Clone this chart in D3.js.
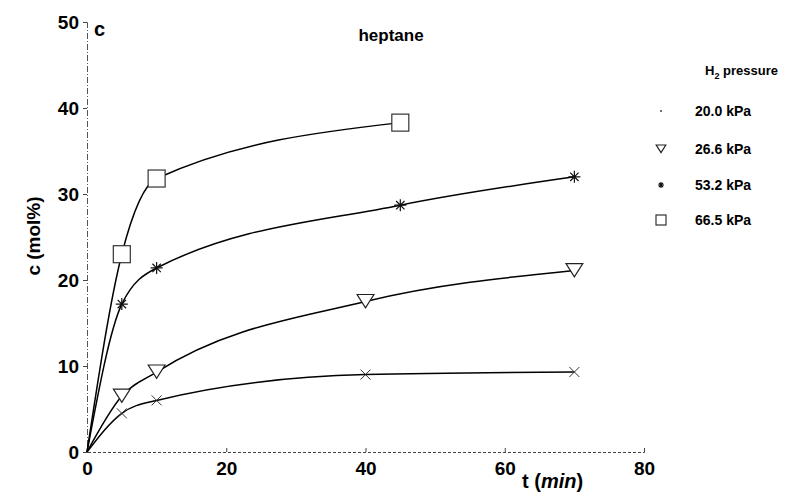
<!DOCTYPE html>
<html><head><meta charset="utf-8">
<script src="https://cdn.jsdelivr.net/npm/d3@7"></script>
<style>body{margin:0;background:#fff}text{font-family:"Liberation Sans",Arial,sans-serif;fill:#000}</style>
</head><body>
<svg id="c" width="798" height="493"></svg>
<script>
const xTicks = [0, 20, 40, 60, 80];
const yTicks = [0, 10, 20, 30, 40, 50];
const legendLabels = ["20.0 kPa", "26.6 kPa", "53.2 kPa", "66.5 kPa"];
const t20 = [0, 5, 10, 40, 70];
const c20 = [0, 4.5, 6.0, 9.0, 9.3];
const t26 = [0, 5, 10, 40, 70];
const c26 = [0, 6.5, 9.3, 17.5, 21.1];
const t53 = [0, 5, 10, 45, 70];
const c53 = [0, 17.2, 21.4, 28.7, 32.0];
const t66 = [0, 5, 10, 45];
const c66 = [0, 23.0, 31.8, 38.3];

const series = [
  {t: t20, c: c20, m: "x"},
  {t: t26, c: c26, m: "tri"},
  {t: t53, c: c53, m: "star"},
  {t: t66, c: c66, m: "sq"}
];

const svg = d3.select("#c");
const x = d3.scaleLinear().domain([0, 80]).range([87, 644]);
const y = d3.scaleLinear().domain([0, 50]).range([452, 22]);

// axes
const xa = svg.append("g").attr("transform", "translate(0,452)")
  .call(d3.axisBottom(x).tickValues(xTicks).tickSize(-4).tickPadding(7));
xa.select(".domain").attr("stroke", "#444").attr("stroke-dasharray", "3,2");
xa.selectAll(".tick line").attr("stroke", "#444");
xa.selectAll("text").attr("font-size", 19).attr("font-weight", "bold").attr("dy", "0.85em");
const ya = svg.append("g").attr("transform", "translate(87,0)")
  .call(d3.axisLeft(y).tickValues(yTicks).tickSize(4).tickPadding(4));
ya.select(".domain").attr("stroke", "#555").attr("stroke-dasharray", "6,2,1,2");
ya.selectAll(".tick line").attr("stroke", "#444");
ya.selectAll("text").attr("font-size", 19).attr("font-weight", "bold");

// lines
const line = d3.line().curve(d3.curveMonotoneX).x(d => x(d[0])).y(d => y(d[1]));
series.forEach(s => {
  const pts = s.t.map((t, i) => [t, s.c[i]]);
  svg.append("path").attr("d", line(pts)).attr("fill", "none").attr("stroke", "#000").attr("stroke-width", 1.5);
});

function marker(g, type, px, py, sz) {
  const k = sz;
  if (type === "x") {
    g.append("path").attr("d", `M${px-k},${py-k}L${px+k},${py+k}M${px-k},${py+k}L${px+k},${py-k}`)
      .attr("stroke", "#333").attr("stroke-width", 1);
  } else if (type === "tri") {
    g.append("path").attr("d", `M${px-k*1.2},${py-k}L${px+k*1.2},${py-k}L${px},${py+k*0.9}Z`)
      .attr("fill", "#fff").attr("stroke", "#222").attr("stroke-width", 1.2);
  } else if (type === "star") {
    g.append("path").attr("d", `M${px-k},${py}L${px+k},${py}M${px},${py-k}L${px},${py+k}M${px-k*0.7},${py-k*0.7}L${px+k*0.7},${py+k*0.7}M${px-k*0.7},${py+k*0.7}L${px+k*0.7},${py-k*0.7}`)
      .attr("stroke", "#111").attr("stroke-width", 1.2);
  } else if (type === "sq") {
    g.append("rect").attr("x", px-k).attr("y", py-k).attr("width", 2*k).attr("height", 2*k)
      .attr("fill", "#fff").attr("stroke", "#333").attr("stroke-width", 1.2);
  }
}
const mg = svg.append("g");
const sizes = {x: 5, tri: 7, star: 6, sq: 8.5};
series.forEach(s => {
  s.t.forEach((t, i) => { if (t > 0) marker(mg, s.m, x(t), y(s.c[i]), sizes[s.m]); });
});

// texts
svg.append("text").attr("x", 94).attr("y", 36).attr("font-size", 20).attr("font-weight", "bold").text("c");
svg.append("text").attr("x", 391).attr("y", 41).attr("font-size", 17).attr("font-weight", "bold").attr("text-anchor", "middle").text("heptane");
svg.append("text").attr("transform", "translate(40,236) rotate(-90)").attr("text-anchor", "middle")
  .attr("font-size", 19).attr("font-weight", "bold").text("c (mol%)");
const xl = svg.append("text").attr("x", 522).attr("y", 488).attr("font-size", 20).attr("font-weight", "bold").attr("text-anchor", "start");
xl.append("tspan").text("t (");
xl.append("tspan").attr("font-style", "italic").text("min");
xl.append("tspan").text(")");

// legend
const lt = svg.append("text").attr("x", 705).attr("y", 75).attr("font-size", 13).attr("font-weight", "bold");
lt.append("tspan").text("H");
lt.append("tspan").attr("font-size", 9).attr("dy", 4).text("2");
lt.append("tspan").attr("dy", -4).text(" pressure");
const ly = [116, 154, 190, 225];
const lg = svg.append("g");
legendLabels.forEach((l, i) => {
  svg.append("text").attr("x", 695).attr("y", ly[i]).attr("font-size", 14).attr("font-weight", "bold").text(l);
  const m = series[i].m;
  const ms = {x: 1, tri: 4, star: 3, sq: 5}[m];
  if (m === "x") lg.append("circle").attr("cx", 661).attr("cy", ly[i]-5).attr("r", 1).attr("fill", "#444");
  else marker(lg, m, 661, ly[i]-5, ms);
});
</script>
</body></html>
